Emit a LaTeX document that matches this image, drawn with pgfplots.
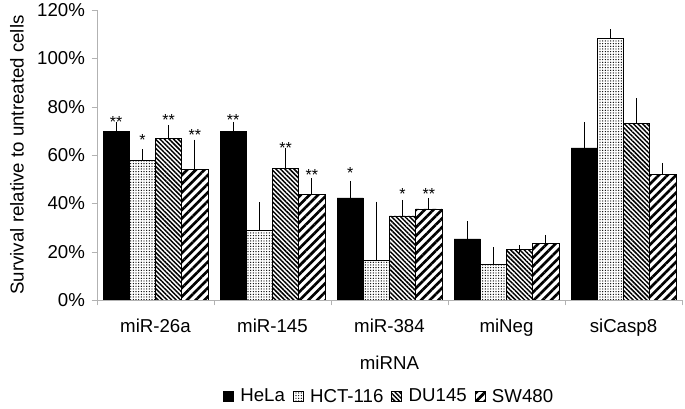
\documentclass[border=0pt]{standalone}
\usepackage{fontspec}
\setmainfont{Liberation Sans}
\usepackage{pgfplots}
\usepackage{pgfplotstable}
\pgfplotsset{compat=1.18}
\usetikzlibrary{patterns.meta}

% survival (%) and upper error per cell line, groups at 0..4
\pgfplotstableread{
g HeLa HeLaE HCT HCTE DU DUE SW SWE
0 69.8 2.2 57.8 3.0 67.0 3.7 54.2 10.5
1 69.7 2.3 28.8 10.0 54.4 6.7 43.6 5.1
2 42.3 5.3 16.4 22.7 34.8 5.0 37.7 2.9
3 25.3 5.7 14.9 5.3 20.9 0.3 23.4 1.9
4 62.9 8.9 108.3 2.1 73.0 8.8 52.0 3.1
}\data

\begin{document}
\begin{tikzpicture}[font=\fontsize{14}{16.8}\selectfont]
\useasboundingbox (-72.75pt,-81.75pt) rectangle (441pt,225pt);
\begin{axis}[
    scale only axis,
    width=438.75pt, height=217.5pt,
    ybar=0pt, bar width=0.224,
    xmin=-0.5, xmax=4.5, ymin=0, ymax=120,
    axis x line=bottom, axis y line=left,
    axis line style={draw=gray!60, -},
    tick align=outside,
    xtick={0,...,4},
    xticklabels={miR-26a,miR-145,miR-384,miNeg,siCasp8},
    xticklabel style={yshift=-7pt},
    yticklabel style={xshift=-1.5pt},
    major x tick style={draw=none},
    minor xtick={-0.5,0.5,...,4.5},
    minor x tick style={draw=gray!60},
    minor tick length=4pt,
    major tick length=4pt,
    ytick={0,20,...,120},
    yticklabels={0\%,20\%,40\%,60\%,80\%,100\%,120\%},
    y tick style={draw=gray!60},
    xlabel={miRNA},
    ylabel={Survival relative to untreated cells},
    xlabel style={at={(axis description cs:0.5,-0.217)}, anchor=center},
    ylabel style={at={(axis description cs:-0.137,0.5)}, anchor=center},
    legend style={at={(axis description cs:0.5,-0.333)}, anchor=center,
        draw=none, legend columns=4,
        /tikz/every odd column/.append style={column sep=3pt},
        /tikz/every even column/.append style={column sep=4pt}},
    legend image code/.code={\draw[#1] (0pt,-3.75pt) rectangle (7.5pt,3.75pt);},
    error bars/y dir=plus, error bars/y explicit,
    error bars/error bar style={black, line width=0.6pt},
    error bars/error mark options={black, line width=0.6pt, mark size=3pt},
]
\addplot[draw=black, fill=black] table[x=g, y=HeLa, y error=HeLaE]{\data};
\addplot[draw=black, pattern={Dots[radius=0.5pt, distance=2pt]}, pattern color=black]
    table[x=g, y=HCT, y error=HCTE]{\data};
\addplot[draw=black, pattern={Lines[angle=-45, distance=2.4pt, line width=1.1pt]}, pattern color=black]
    table[x=g, y=DU, y error=DUE]{\data};
\addplot[draw=black, pattern={Lines[angle=45, distance=4.6pt, line width=2pt]}, pattern color=black]
    table[x=g, y=SW, y error=SWE]{\data};
\legend{HeLa, HCT-116, DU145, SW480}

% significance stars
\begin{scope}[every node/.style={anchor=base, inner sep=0pt, font=\fontsize{12}{12}\selectfont}]
\node at (axis cs:-0.336,71.5) {**};
\node at (axis cs:-0.112,63.9) {*};
\node at (axis cs:0.112,72.2) {**};
\node at (axis cs:0.336,66.0) {**};
\node at (axis cs:0.664,72.2) {**};
\node at (axis cs:1.112,60.8) {**};
\node at (axis cs:1.336,49.5) {**};
\node at (axis cs:1.664,50.2) {*};
\node at (axis cs:2.112,41.6) {*};
\node at (axis cs:2.336,41.6) {**};
\end{scope}
\end{axis}
\end{tikzpicture}
\end{document}
